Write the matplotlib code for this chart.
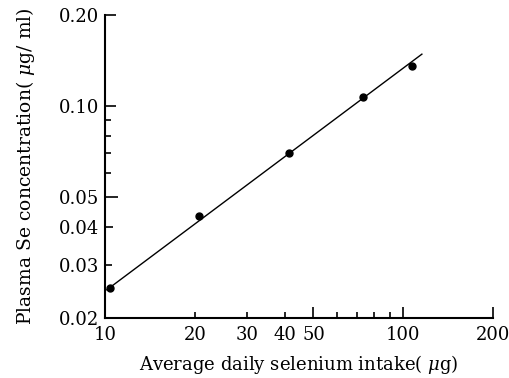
import numpy as np
import matplotlib
matplotlib.use("Agg")
import matplotlib.pyplot as plt
from matplotlib.ticker import NullFormatter

# values (log-log)
intake = [10.4, 20.7, 41.5, 73.4, 107]          # ug/day
plasma_se = [0.0251, 0.0434, 0.0701, 0.107, 0.136]  # ug/ml

# regression line endpoints
fit_x = [10.1, 116]
fit_y = [0.0247, 0.149]

xticks = [10, 20, 30, 40, 50, 100, 200]
xtick_labels = ["10", "20", "30", "40", "50", "100", "200"]
xminor = [60, 70, 80, 90]
yticks = [0.02, 0.03, 0.04, 0.05, 0.10, 0.20]
ytick_labels = ["0.02", "0.03", "0.04", "0.05", "0.10", "0.20"]
yminor = [0.06, 0.07, 0.08, 0.09]

plt.rcParams["font.family"] = "DejaVu Serif"
plt.rcParams["mathtext.fontset"] = "dejavuserif"

fig = plt.figure(figsize=(5.09, 3.78), dpi=100)
ax = fig.add_axes([105 / 509, 60 / 378, 388 / 509, 303 / 378])

ax.plot(fit_x, fit_y, color="black", lw=1.0, solid_capstyle="butt")
ax.plot(intake, plasma_se, "o", color="black", ms=5)

ax.set_xscale("log")
ax.set_yscale("log")
ax.set_xlim(10, 200)
ax.set_ylim(0.02, 0.20)

for s in ["top", "right"]:
    ax.spines[s].set_visible(False)
for s in ["left", "bottom"]:
    ax.spines[s].set_linewidth(1.5)

ax.set_xticks(xticks)
ax.set_xticklabels(xtick_labels)
ax.set_xticks(xminor, minor=True)
ax.xaxis.set_minor_formatter(NullFormatter())
ax.set_yticks(yticks)
ax.set_yticklabels(ytick_labels)
ax.set_yticks(yminor, minor=True)
ax.yaxis.set_minor_formatter(NullFormatter())

ax.tick_params(which="both", direction="in", width=1.2, labelsize=13, colors="black")
ax.tick_params(axis="x", which="major", pad=6)
ax.tick_params(axis="y", which="major", pad=4)
ax.tick_params(which="minor", length=4)

# tick lengths as drawn in the original
xlens = [0, 4, 4, 4, 8, 8, 8]
for t, l in zip(ax.xaxis.get_major_ticks(), xlens):
    t.tick1line.set_markersize(l)
ylens = [0, 5, 6, 9, 8, 8]
for t, l in zip(ax.yaxis.get_major_ticks(), ylens):
    t.tick1line.set_markersize(l)

ax.set_xlabel("Average daily selenium intake( $\\mu$g)", fontsize=13, labelpad=6)
ax.set_ylabel("Plasma Se concentration( $\\mu$g/ ml)", fontsize=13.5, labelpad=16)

fig.savefig("out.png", dpi=100)
